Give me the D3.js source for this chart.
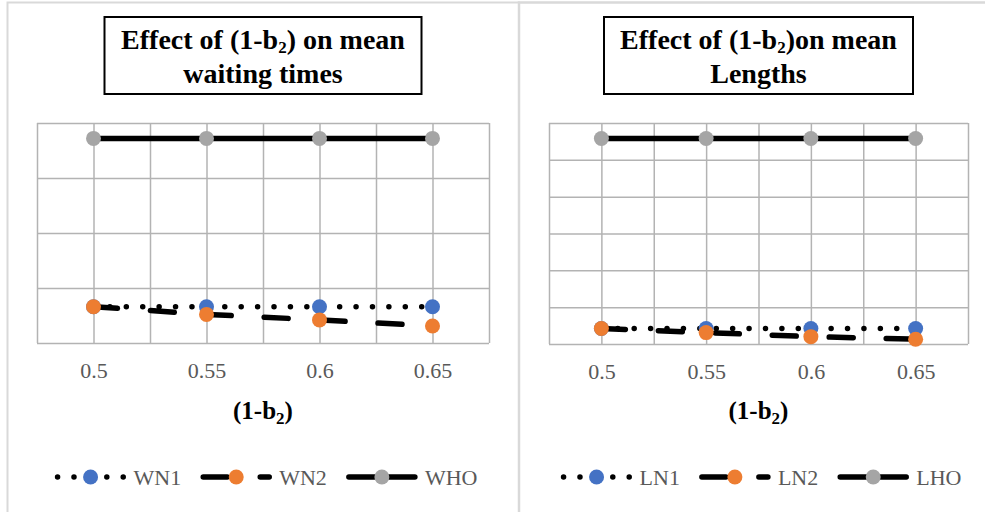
<!DOCTYPE html>
<html>
<head>
<meta charset="utf-8">
<script src="https://cdn.jsdelivr.net/npm/d3@7"></script>
<style>
  html, body { margin: 0; padding: 0; background: #ffffff; }
  svg { display: block; }
</style>
</head>
<body>
<svg id="chart" width="985" height="512"></svg>
<script>
// ---- data ----
const xValues = [0.5, 0.55, 0.6, 0.65];
const xTickLabels = ["0.5", "0.55", "0.6", "0.65"];

const waitNames = ["WN1", "WN2", "WHO"];
const WN1 = [6.6, 6.6, 6.6, 6.6];
const WN2 = [6.6, 5.2, 4.2, 3.1];
const WHO = [37.2, 37.2, 37.2, 37.2];

const lengthNames = ["LN1", "LN2", "LHO"];
const LN1 = [4.2, 4.2, 4.2, 4.2];
const LN2 = [4.2, 3.1, 2.0, 1.3];
const LHO = [55.8, 55.8, 55.8, 55.8];

const waitYTicks = [0, 10, 20, 30, 40];
const lengthYTicks = [0, 10, 20, 30, 40, 50, 60];
const xGridTicks = [0.475, 0.5, 0.525, 0.55, 0.575, 0.6, 0.625, 0.65, 0.675];

// ---- styles ----
const markerColors = ["#4472c4", "#ed7d31", "#a5a5a5"];
const lineStyles = [
  { dash: "0.01,16.4" },   // dotted
  { dash: "24,33" },       // long dash
  { dash: null }           // solid
];
const LW = 5.5;
const serif = "'Liberation Serif', 'Times New Roman', serif";

const svg = d3.select("#chart");

// panel frames
svg.append("rect").attr("x", 7.5).attr("y", 2.5).attr("width", 511.5).attr("height", 520)
  .attr("fill", "#fff").attr("stroke", "#d9d9d9").attr("stroke-width", 2);
svg.append("rect").attr("x", 519).attr("y", 2.5).attr("width", 480).attr("height", 520)
  .attr("fill", "#fff").attr("stroke", "#d9d9d9").attr("stroke-width", 2.5);

function drawPanel(cfg) {
  const g = svg.append("g");
  const x = d3.scaleLinear().domain([0.475, 0.675]).range([cfg.left, cfg.right]);
  const y = d3.scaleLinear().domain([0, cfg.yTicks[cfg.yTicks.length - 1]]).range([cfg.bottom, cfg.top]);

  // vertical gridlines
  g.append("g").attr("transform", `translate(0,${cfg.bottom})`)
    .call(d3.axisBottom(x).tickValues(xGridTicks).tickSize(-(cfg.bottom - cfg.top)).tickFormat(""))
    .call(a => a.select(".domain").remove())
    .call(a => a.selectAll("line").attr("stroke", "#b3b3b3").attr("stroke-width", 1.5));
  // horizontal gridlines
  g.append("g").attr("transform", `translate(${cfg.left},0)`)
    .call(d3.axisLeft(y).tickValues(cfg.yTicks).tickSize(-(cfg.right - cfg.left)).tickFormat(""))
    .call(a => a.select(".domain").remove())
    .call(a => a.selectAll("line").attr("stroke", "#b3b3b3").attr("stroke-width", 1.5));

  // x tick labels
  g.append("g").attr("transform", `translate(0,${cfg.bottom})`)
    .call(d3.axisBottom(x).tickValues(xValues).tickSize(0).tickPadding(0)
      .tickFormat((d, i) => xTickLabels[i]))
    .call(a => a.select(".domain").remove())
    .call(a => a.selectAll("text")
      .attr("y", 35).attr("dy", null)
      .attr("fill", "#595959").attr("font-family", serif).attr("font-size", 22));

  // series
  cfg.series.forEach((vals, si) => {
    const pts = vals.map((v, i) => [x(xValues[i]), y(v)]);
    const line = d3.line();
    const p = g.append("path").attr("d", line(pts))
      .attr("fill", "none").attr("stroke", "#000").attr("stroke-width", LW)
      .attr("stroke-linecap", "round").attr("stroke-linejoin", "round");
    if (lineStyles[si].dash) p.attr("stroke-dasharray", lineStyles[si].dash);
    g.selectAll(null).data(vals).join("circle")
      .attr("cx", (d, i) => x(xValues[i])).attr("cy", d => y(d))
      .attr("r", 7.5).attr("fill", markerColors[si]);
  });

  // title box
  const cx = (cfg.left + cfg.right) / 2;
  const tg = g.append("g");
  tg.append("rect").attr("x", cx - cfg.boxW / 2).attr("y", 17).attr("width", cfg.boxW).attr("height", 77)
    .attr("fill", "#fff").attr("stroke", "#000").attr("stroke-width", 2);
  const t1 = tg.append("text").attr("x", cx).attr("y", 49).attr("font-family", serif)
    .attr("font-weight", "bold").attr("font-size", 28).attr("fill", "#000").attr("text-anchor", "middle");
  t1.append("tspan").text(cfg.title1a);
  t1.append("tspan").attr("font-size", 17).attr("dy", 4).text("2");
  t1.append("tspan").attr("dy", -4).text(cfg.title1b);
  tg.append("text").attr("x", cx).attr("y", 82.5).attr("font-family", serif)
    .attr("font-weight", "bold").attr("font-size", 28).attr("fill", "#000").attr("text-anchor", "middle")
    .text(cfg.title2);

  // axis title
  const at = g.append("text").attr("x", cx).attr("y", 419).attr("text-anchor", "middle")
    .attr("font-family", serif).attr("font-weight", "bold").attr("font-size", 25).attr("fill", "#000");
  at.append("tspan").text("(1-b");
  at.append("tspan").attr("font-size", 17).attr("dy", 5).text("2");
  at.append("tspan").attr("dy", -5).text(")");

  // legend
  const lg = g.append("g");
  const sampleLen = 72, textGap = 7, itemGap = 19, ly = 477;
  const items = cfg.names.map((n, i) => {
    const t = lg.append("text").attr("font-family", serif).attr("font-size", 22)
      .attr("fill", "#595959").attr("y", ly + 8).text(n);
    return { t, w: t.node().getComputedTextLength(), i };
  });
  const total = d3.sum(items, d => sampleLen + textGap + d.w) + itemGap * (items.length - 1);
  let sx = cfg.legendCenter - total / 2;
  items.forEach(it => {
    const si = it.i;
    const l = lg.append("line").attr("x1", sx + 3).attr("x2", sx + sampleLen - 3)
      .attr("y1", ly).attr("y2", ly).attr("stroke", "#000").attr("stroke-width", LW)
      .attr("stroke-linecap", "round");
    if (lineStyles[si].dash) l.attr("stroke-dasharray", lineStyles[si].dash);
    lg.append("circle").attr("cx", sx + sampleLen / 2).attr("cy", ly).attr("r", 7.5)
      .attr("fill", markerColors[si]);
    it.t.attr("x", sx + sampleLen + textGap);
    sx += sampleLen + textGap + it.w + itemGap;
  });
}

drawPanel({
  left: 37, right: 489, top: 123, bottom: 343,
  yTicks: waitYTicks,
  series: [WN1, WN2, WHO],
  names: waitNames,
  title1a: "Effect of (1-b", title1b: ") on mean", title2: "waiting times",
  boxW: 317,
  legendCenter: 266
});

drawPanel({
  left: 549, right: 968, top: 123, bottom: 344,
  yTicks: lengthYTicks,
  series: [LN1, LN2, LHO],
  names: lengthNames,
  title1a: "Effect of (1-b", title1b: ")on mean", title2: "Lengths",
  boxW: 309,
  legendCenter: 761
});
</script>
</body>
</html>
